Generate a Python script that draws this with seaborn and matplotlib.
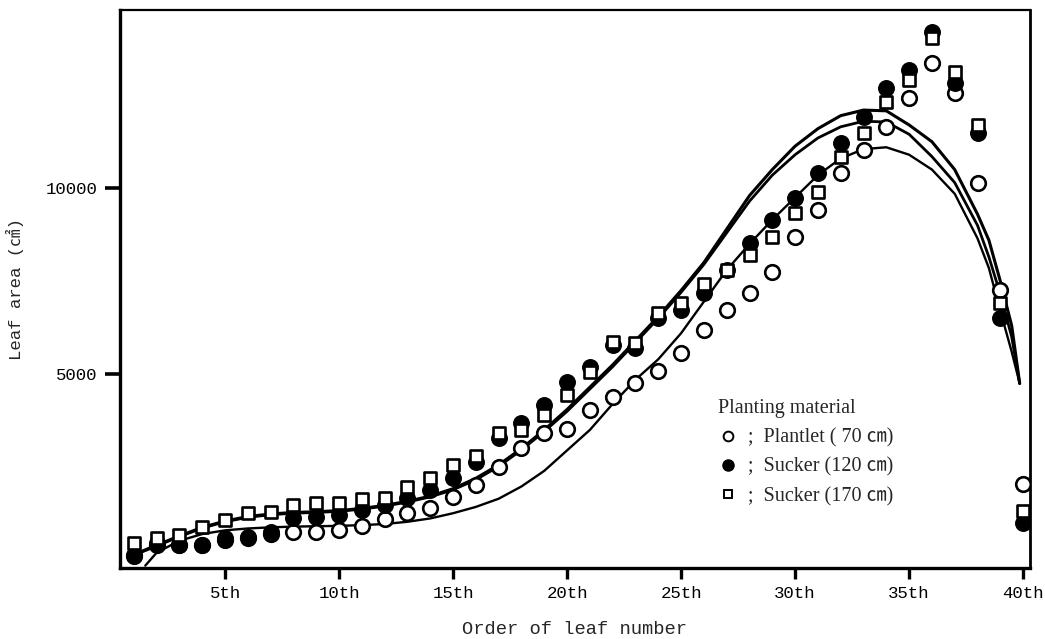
import numpy as np
import pandas as pd
import matplotlib
matplotlib.use("Agg")
import matplotlib.pyplot as plt
from matplotlib.lines import Line2D
import seaborn as sns

# Leaf area of each leaf position, by planting material
leaf = list(range(1, 41))

plantlet_70 = [100, 400, 400, 400, 540, 590, 700, 750, 750, 810,
               910, 1100, 1260, 1400, 1690, 2020, 2500, 3010, 3410, 3520,
               4030, 4380, 4760, 5080, 5560, 6180, 6720, 7180, 7740, 8680,
               9410, 10400, 11020, 11640, 12420, 13360, 12550, 10130, 7260, 2040]

sucker_120 = [130, 460, 400, 400, 590, 620, 750, 1130, 1160, 1210,
              1340, 1480, 1670, 1880, 2200, 2630, 3280, 3680, 4170, 4780,
              5190, 5780, 5700, 6500, 6720, 7180, 7800, 8520, 9140, 9730,
              10400, 11210, 11910, 12690, 13170, 14190, 12820, 11480, 6500, 1000]

sucker_170 = [460, 590, 670, 890, 1080, 1260, 1290, 1480, 1530, 1530,
              1640, 1670, 1960, 2200, 2550, 2800, 3410, 3490, 3900, 4440,
              5050, 5860, 5830, 6640, 6910, 7420, 7800, 8200, 8680, 9330,
              9890, 10830, 11480, 12310, 12900, 14030, 13120, 11690, 6910, 1330]

# Fitted growth curves
fit_leaf = [1, 2, 3, 4, 5, 6, 7, 8, 9, 10, 11, 12, 13, 14, 15, 16, 17, 18, 19, 20,
            21, 22, 23, 24, 25, 26, 27, 28, 29, 30, 31, 32, 33, 34, 35, 36, 37, 38,
            38.5, 39, 39.5, 39.85]

fit_sucker_120 = [150, 400, 650, 880, 1050, 1170, 1240, 1280, 1300, 1330,
                  1390, 1470, 1580, 1720, 1920, 2200, 2560, 3000, 3500, 4050,
                  4650, 5250, 5900, 6550, 7250, 8000, 8900, 9800, 10500, 11130,
                  11600, 11950, 12100, 12080, 11700, 11250, 10500, 9300,
                  8600, 7500, 6300, 4750]

fit_sucker_170 = [130, 380, 630, 860, 1030, 1150, 1220, 1260, 1280, 1310,
                  1370, 1450, 1560, 1700, 1890, 2160, 2520, 2960, 3460, 4000,
                  4600, 5200, 5850, 6500, 7200, 7950, 8800, 9650, 10350, 10900,
                  11350, 11650, 11800, 11780, 11450, 10850, 10150, 9000,
                  8150, 7150, 6000, 4750]

fit_plantlet_leaf = [1.5] + fit_leaf[1:]
fit_plantlet_70 = [-150, 200, 520, 700, 800, 850, 880, 900, 910, 920,
                   940, 970, 1030, 1120, 1260, 1430, 1650, 1980, 2400, 2950,
                   3500, 4200, 4850, 5400, 6100, 6950, 7800, 8500, 9150, 9750,
                   10350, 10800, 11050, 11100, 10900, 10500, 9850, 8650,
                   7850, 6700, 5600, 4750]

tick_leaf = [5, 10, 15, 20, 25, 30, 35, 40]
tick_text = ["5th", "10th", "15th", "20th", "25th", "30th", "35th", "40th"]
area_ticks = [5000, 10000]

legend_title = "Planting material"
legend_labels = [";  Plantlet ( 70 ㎝)", ";  Sucker (120 ㎝)", ";  Sucker (170 ㎝)"]

sns.set_style("ticks")
mono = ["Liberation Mono", "Noto Sans CJK JP"]
serif = ["Liberation Serif", "Noto Sans CJK JP"]
plt.rcParams["font.family"] = mono

fig, ax = plt.subplots(figsize=(10.45, 6.39), dpi=100)
fig.subplots_adjust(left=0.1148, right=0.9856, bottom=0.111, top=0.984)

# fitted curves below the markers
sns.lineplot(x=fit_leaf, y=fit_sucker_120, color="black", lw=2.2, ax=ax, zorder=1)
sns.lineplot(x=fit_leaf, y=fit_sucker_170, color="black", lw=2.0, ax=ax, zorder=1)
sns.lineplot(x=fit_plantlet_leaf, y=fit_plantlet_70, color="black", lw=1.7, ax=ax, zorder=1)

# observed leaf areas
sns.scatterplot(x=leaf, y=plantlet_70, marker="o", s=110, facecolor="white",
                edgecolor="black", linewidth=1.9, ax=ax, zorder=3)
sns.scatterplot(x=leaf, y=sucker_120, marker="o", s=125, color="black",
                edgecolor="black", linewidth=1.0, ax=ax, zorder=4)
sns.scatterplot(x=leaf, y=sucker_170, marker="s", s=75, facecolor="white",
                edgecolor="black", linewidth=1.9, ax=ax, zorder=5)

ax.set_xlim(0.39, 40.3)
ax.set_ylim(-215, 14785)
ax.set_xticks(tick_leaf)
ax.set_xticklabels(tick_text)
ax.set_yticks(area_ticks)
ax.set_yticklabels([str(v) for v in area_ticks])
ax.tick_params(axis="x", direction="out", length=8, width=2.4, labelsize=12.5,
               colors="black", pad=5)
ax.tick_params(axis="y", direction="out", length=11, width=2.6, labelsize=12.5,
               colors="black", pad=5)

for side in ["left", "right", "top", "bottom"]:
    ax.spines[side].set_visible(True)
    ax.spines[side].set_color("black")
ax.spines["left"].set_linewidth(2.4)
ax.spines["bottom"].set_linewidth(2.4)
ax.spines["right"].set_linewidth(2.0)
ax.spines["top"].set_linewidth(1.6)

ax.set_xlabel("Order of leaf number", fontsize=13.5, family=mono, labelpad=14)
ax.set_ylabel("Leaf area (㎠)", fontsize=12.5, family=mono, labelpad=16)

handles = [
    Line2D([], [], ls="none", marker="o", markersize=7, markerfacecolor="white",
           markeredgecolor="black", markeredgewidth=1.4),
    Line2D([], [], ls="none", marker="o", markersize=8, markerfacecolor="black",
           markeredgecolor="black"),
    Line2D([], [], ls="none", marker="s", markersize=6, markerfacecolor="white",
           markeredgecolor="black", markeredgewidth=1.4),
]
leg = ax.legend(handles, legend_labels, title=legend_title, loc="upper left",
                bbox_to_anchor=(0.637, 0.335), frameon=False, alignment="left",
                handletextpad=0.5, handlelength=1.0, labelspacing=0.5,
                prop={"family": serif, "size": 14.5},
                title_fontproperties={"family": serif, "size": 14.5})

fig.savefig("out.png", dpi=100)
